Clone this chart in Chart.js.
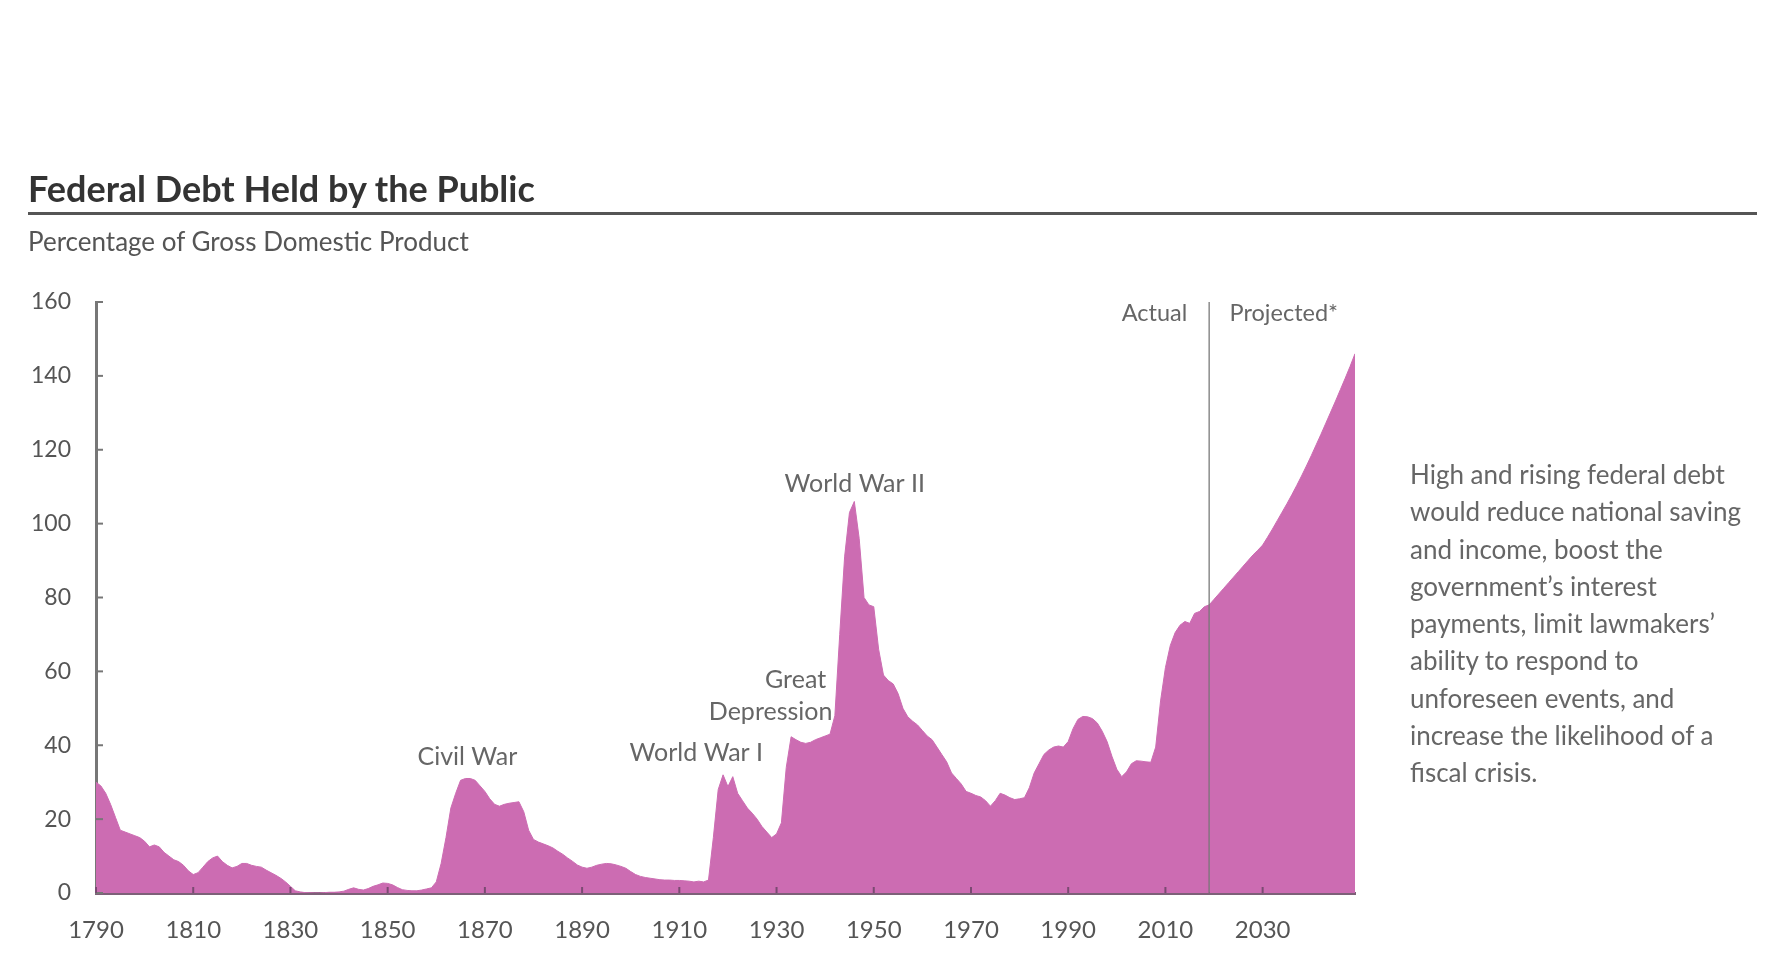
<!DOCTYPE html>
<html>
<head>
<meta charset="utf-8">
<title>Federal Debt Held by the Public</title>
<script src="https://cdn.jsdelivr.net/npm/chart.js@4.4.1/dist/chart.umd.min.js"></script>
<style>
  body { margin: 0; background: #fff; font-family: Lato, "Open Sans", sans-serif; }
  #page { position: relative; width: 1766px; height: 954px; overflow: hidden; }
  #chartBox { position: absolute; left: 0; top: 0; width: 1766px; height: 954px; }
  .title { position: absolute; left: 28px; top: 170px; font-size: 36px; font-weight: bold; color: #333; line-height: 1; }
  .rule { position: absolute; left: 28px; top: 212px; width: 1729px; height: 3px; background: #555; }
  .subtitle { position: absolute; left: 28px; top: 228px; font-size: 26px; color: #555; line-height: 1; }
  .note { position: absolute; left: 1410px; top: 456px; font-size: 26px; color: #666; line-height: 37.3px; }
</style>
</head>
<body>
<div id="page">
  <div id="chartBox"><canvas id="debtChart"></canvas></div>
  <div class="title">Federal Debt Held by the Public</div>
  <div class="rule"></div>
  <div class="subtitle">Percentage of Gross Domestic Product</div>
  <div class="note">
    High and rising federal debt<br>
    would reduce national saving<br>
    and income, boost the<br>
    government’s interest<br>
    payments, limit lawmakers’<br>
    ability to respond to<br>
    unforeseen events, and<br>
    increase the likelihood of a<br>
    fiscal crisis.
  </div>
</div>
<script>
// deuda en manos del publico, % del PIB, un valor por año
const firstYear = 1790;
const actualDebt = [
  30, 29, 27, 24, 20.5, 17, 16.5, 16, 15.5, 15,            // 1790s
  14, 12.5, 13, 12.5, 11, 10, 9, 8.5, 7.5, 6,              // 1800s
  5, 5.5, 7, 8.5, 9.5, 10, 8.5, 7.5, 6.8, 7.2,             // 1810s
  8, 8, 7.5, 7.2, 7, 6.2, 5.5, 4.8, 4, 3,                  // 1820s
  1.8, 0.6, 0.3, 0.1, 0.05, 0, 0, 0.1, 0.2, 0.2,           // 1830s
  0.3, 0.5, 1, 1.4, 1, 0.8, 1.2, 1.8, 2.2, 2.7,            // 1840s
  2.6, 2.2, 1.5, 0.9, 0.7, 0.6, 0.6, 0.8, 1.1, 1.4,        // 1850s
  3, 8, 15, 23, 27, 30.5, 31, 31, 30.5, 29,                // 1860s
  27.5, 25.5, 24, 23.5, 24, 24.3, 24.5, 24.7, 22, 17,      // 1870s
  14.5, 13.8, 13.3, 12.8, 12.2, 11.3, 10.5, 9.5, 8.6, 7.6, // 1880s
  7, 6.7, 7, 7.5, 7.8, 8, 7.9, 7.6, 7.2, 6.7,              // 1890s
  5.8, 5, 4.5, 4.2, 4, 3.8, 3.6, 3.5, 3.5, 3.4,            // 1900s
  3.4, 3.3, 3.2, 3, 3.2, 3, 3.5, 15, 28, 32,               // 1910s
  28.8, 31.5, 27, 25, 23, 21.6, 20, 18, 16.5, 15,          // 1920s
  16, 19, 34, 42.3, 41.5, 40.8, 40.5, 40.8, 41.5, 42,      // 1930s
  42.5, 43, 48, 70, 91, 103, 106, 96, 80, 78,              // 1940s
  77.5, 66, 59, 57.5, 56.6, 54, 50, 47.7, 46.5, 45.5,      // 1950s
  44, 42.5, 41.5, 39.5, 37.5, 35.5, 32.5, 31, 29.5, 27.5,  // 1960s
  27, 26.4, 26, 25, 23.5, 25, 27, 26.5, 25.8, 25.3,        // 1970s
  25.5, 25.8, 28.5, 32.5, 35, 37.5, 38.7, 39.5, 39.8, 39.5,// 1980s
  41, 44.5, 47, 47.8, 47.7, 47.2, 46, 43.8, 41, 37,        // 1990s
  33.5, 31.5, 32.8, 35, 35.8, 35.7, 35.5, 35.4, 39.5, 52,  // 2000s
  61, 67, 70.5, 72.5, 73.5, 73, 75.7, 76.2, 77.5, 78       // 2010s
];
const splitYear = 2019;
const projectedDebt = [
  78, 79.5, 81, 82.5, 84, 85.5, 87, 88.5, 90, 91.5, 92.8,          // 2019-2029
  94.2, 96.3, 98.5, 100.8, 103.1, 105.4, 107.8, 110.3, 112.9, 115.6, // 2030s
  118.4, 121.3, 124.2, 127.2, 130.2, 133.2, 136.3, 139.4, 142.6, 146 // 2040s
];
const lastYear = 2049;
const xTickYears = [1790, 1810, 1830, 1850, 1870, 1890, 1910, 1930, 1950, 1970, 1990, 2010, 2030];
const yTickValues = [0, 20, 40, 60, 80, 100, 120, 140, 160];

const pink = '#cc6cb2';
const toPoints = (arr, start) => arr.map((v, i) => ({ x: start + i, y: v }));

// rotulos dentro del grafico
const notes = [
  { text: 'Civil War', year: 1866.4, value: 36.8, align: 'center', size: 25 },
  { text: 'World War I', year: 1913.5, value: 37.9, align: 'center', size: 25 },
  { text: 'Great', year: 1940.2, value: 57.6, align: 'right', size: 25 },
  { text: 'Depression', year: 1941.5, value: 49, align: 'right', size: 25 },
  { text: 'World War II', year: 1946.1, value: 110.7, align: 'center', size: 25 },
  { text: 'Actual', year: 2014.5, value: 157, align: 'right', size: 23.5 },
  { text: 'Projected*', year: 2023.2, value: 157, align: 'left', size: 23.5 }
];

const overlay = {
  id: 'overlay',
  afterDatasetsDraw(chart) {
    const { ctx } = chart;
    const x = chart.scales.x, y = chart.scales.y;
    ctx.save();
    // marcas hacia dentro en eje y
    ctx.strokeStyle = '#777';
    ctx.lineWidth = 2;
    yTickValues.forEach(v => {
      const py = y.getPixelForValue(v);
      ctx.beginPath();
      ctx.moveTo(x.left, py);
      ctx.lineTo(x.left + 7, py);
      ctx.stroke();
    });
    // marcas en eje x
    ctx.strokeStyle = '#7a4a72';
    xTickYears.forEach(v => {
      const px = x.getPixelForValue(v);
      ctx.beginPath();
      ctx.moveTo(px, y.bottom);
      ctx.lineTo(px, y.bottom - 6);
      ctx.stroke();
    });
    // linea real / proyectado
    const sx = x.getPixelForValue(splitYear);
    ctx.strokeStyle = 'rgba(110,110,110,0.8)';
    ctx.lineWidth = 1.5;
    ctx.beginPath();
    ctx.moveTo(sx, y.getPixelForValue(160));
    ctx.lineTo(sx, y.bottom);
    ctx.stroke();
    // textos
    ctx.fillStyle = '#666';
    ctx.textBaseline = 'middle';
    notes.forEach(n => {
      ctx.font = n.size + 'px Lato';
      ctx.textAlign = n.align;
      ctx.fillText(n.text, x.getPixelForValue(n.year), y.getPixelForValue(n.value));
    });
    ctx.restore();
  }
};

const config = {
  type: 'line',
  data: {
    datasets: [
      {
        label: 'Actual',
        data: toPoints(actualDebt, firstYear),
        borderColor: pink,
        backgroundColor: pink,
        borderWidth: 1,
        pointRadius: 0,
        fill: 'origin'
      },
      {
        label: 'Projected',
        data: toPoints(projectedDebt, splitYear),
        borderColor: pink,
        backgroundColor: pink,
        borderWidth: 1,
        pointRadius: 0,
        fill: 'origin'
      }
    ]
  },
  options: {
    responsive: true,
    maintainAspectRatio: false,
    animation: false,
    layout: { padding: { top: 302, right: 411, left: 0, bottom: 0 } },
    plugins: { legend: { display: false }, tooltip: { enabled: false } },
    scales: {
      x: {
        type: 'linear',
        min: firstYear,
        max: lastYear,
        afterBuildTicks: axis => { axis.ticks = xTickYears.map(v => ({ value: v })); },
        afterFit: axis => { axis.height = 61; },
        grid: { display: false, drawTicks: false },
        border: { display: true, color: '#7d6078', width: 3 },
        ticks: {
          autoSkip: false,
          maxRotation: 0,
          padding: 23,
          color: '#555',
          font: { family: 'Lato', size: 24 },
          callback: v => String(v)
        }
      },
      y: {
        min: 0,
        max: 160,
        afterBuildTicks: axis => { axis.ticks = yTickValues.map(v => ({ value: v })); },
        afterFit: axis => { axis.width = 96; },
        grid: { display: false, drawTicks: false },
        border: { display: true, color: '#777', width: 3 },
        ticks: {
          padding: 25,
          color: '#555',
          font: { family: 'Lato', size: 23 }
        }
      }
    }
  },
  plugins: [overlay]
};

const debtChart = new Chart(document.getElementById('debtChart'), config);
</script>
</body>
</html>
